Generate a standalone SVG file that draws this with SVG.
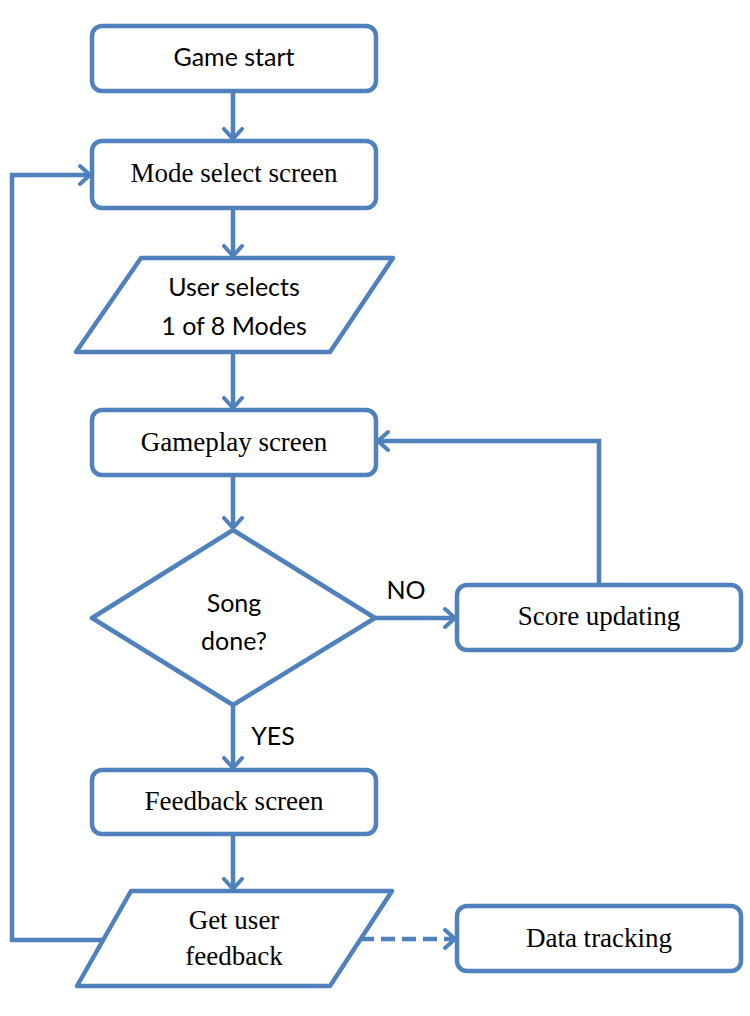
<svg xmlns="http://www.w3.org/2000/svg" width="750" height="1016" viewBox="0 0 750 1016">
<defs>
<marker id="arr" markerUnits="userSpaceOnUse" markerWidth="24" markerHeight="24" viewBox="-12 -12 24 24" refX="0" refY="0" orient="auto">
<polyline points="-10,-9 0,0 -10,9" fill="none" stroke="#4F81BD" stroke-width="4" stroke-linecap="round" stroke-linejoin="round"/>
</marker>
</defs>
<style>
.n{fill:#fff;stroke:#4F81BD;stroke-width:4.5;stroke-linejoin:round}
.c{fill:none;stroke:#4F81BD;stroke-width:4.5;marker-end:url(#arr)}
.s{font-family:Lato,"Liberation Sans",sans-serif;font-size:25px;fill:#000;text-anchor:middle}
.t{font-family:"Liberation Serif",serif;font-size:27px;fill:#000;text-anchor:middle}
</style>
<rect width="750" height="1016" fill="#fff"/>
<g id="connectors">
<line class="c" x1="233" y1="91" x2="233" y2="139"/>
<line class="c" x1="233" y1="208" x2="233" y2="256"/>
<line class="c" x1="233" y1="352" x2="233" y2="408"/>
<line class="c" x1="233" y1="475" x2="233" y2="528"/>
<line class="c" x1="375" y1="618" x2="455" y2="618"/>
<polyline class="c" points="599,585 599,441 378,441"/>
<line class="c" x1="233" y1="705" x2="233" y2="768"/>
<line class="c" x1="233" y1="834" x2="233" y2="889"/>
<polyline class="c" points="106,940 12,940 12,175 90,175"/>
<line class="c" x1="360" y1="939" x2="455" y2="939" stroke-dasharray="14,7"/>
<text class="s" x="406" y="599">NO</text>
<text class="s" x="273" y="745">YES</text>
</g>
<g id="game-start">
<rect class="n" x="92" y="26" width="284" height="65" rx="10"/>
<text class="s" x="234" y="66">Game start</text>
</g>
<g id="mode-select">
<rect class="n" x="92" y="141" width="284" height="67" rx="10"/>
<text class="t" x="234" y="182">Mode select screen</text>
</g>
<g id="user-selects">
<polygon class="n" points="141,258 393,258 330,352 76,352"/>
<text class="s" x="234" y="296">User selects</text>
<text class="s" x="234" y="335">1 of 8 Modes</text>
</g>
<g id="gameplay">
<rect class="n" x="92" y="410" width="284" height="65" rx="10"/>
<text class="t" x="234" y="451">Gameplay screen</text>
</g>
<g id="song-done">
<polygon class="n" points="233,530 375,618 233,705 92,618"/>
<text class="s" x="234" y="612">Song</text>
<text class="s" x="234" y="650">done?</text>
</g>
<g id="score-updating">
<rect class="n" x="457" y="585" width="284" height="65" rx="10"/>
<text class="t" x="599" y="625">Score updating</text>
</g>
<g id="feedback-screen">
<rect class="n" x="92" y="770" width="284" height="64" rx="10"/>
<text class="t" x="234" y="810">Feedback screen</text>
</g>
<g id="get-user-feedback">
<polygon class="n" points="131,891 392,891 330,986 77,986"/>
<text class="t" x="234" y="929">Get user</text>
<text class="t" x="234" y="965">feedback</text>
</g>
<g id="data-tracking">
<rect class="n" x="457" y="906" width="284" height="65" rx="10"/>
<text class="t" x="599" y="947">Data tracking</text>
</g>
</svg>
